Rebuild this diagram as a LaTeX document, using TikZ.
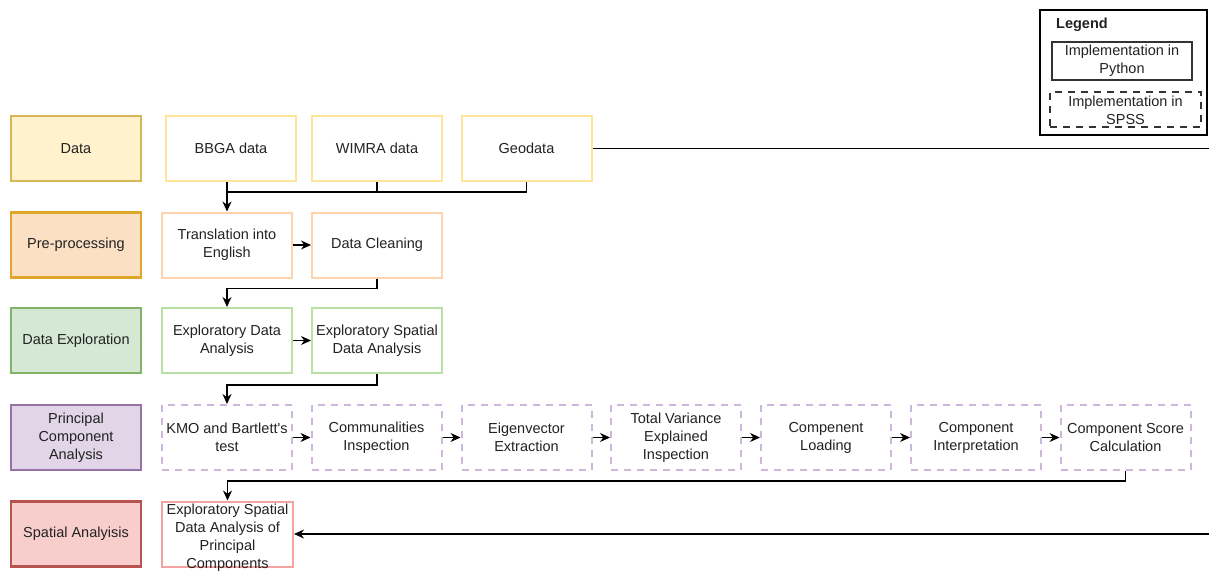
\documentclass[tikz,border=0pt]{standalone}
\usepackage{fontspec}
\setmainfont{Liberation Sans}
\usetikzlibrary{arrows.meta,calc}

\definecolor{txt}{HTML}{222222}
% lane header colours
\definecolor{dataF}{HTML}{FFF2CC}\definecolor{dataS}{HTML}{D6B656}
\definecolor{preF}{HTML}{FCE0C4}\definecolor{preS}{HTML}{E0A62A}
\definecolor{expF}{HTML}{D5E8D4}\definecolor{expS}{HTML}{82B366}
\definecolor{pcaF}{HTML}{E1D5E7}\definecolor{pcaS}{HTML}{9673A6}
\definecolor{spaF}{HTML}{F8CECC}\definecolor{spaS}{HTML}{B85450}
% step box outlines
\definecolor{dataL}{HTML}{FFE599}
\definecolor{preL}{HTML}{FFD3AE}
\definecolor{expL}{HTML}{B9E0A5}
\definecolor{pcaL}{HTML}{CDB5DB}
\definecolor{spaL}{HTML}{F5A3A1}

\begin{document}
\begin{tikzpicture}[x=1pt,y=-1pt,
  every node/.style={font=\fontsize{14.5}{18}\selectfont, text=txt, align=center, inner sep=1pt},
  lane/.style={draw, line width=2.4pt, minimum width=130pt, minimum height=65pt},
  stepbox/.style={draw, line width=2pt, fill=white, minimum width=130pt, minimum height=65pt},
  spssbox/.style={stepbox, dash pattern=on 7pt off 6pt},
  conn/.style={line width=1.2pt, black},
  arr/.style={conn, -{Stealth[length=10pt,width=9pt]}}
]
\useasboundingbox (0,0) rectangle (1209,570);

% lane headers
\node[lane, fill=dataF, draw=dataS] (lData) at (76,148.5) {Data};
\node[lane, fill=preF, draw=preS] (lPre) at (76,245) {Pre-processing};
\node[lane, fill=expF, draw=expS] (lExp) at (76,340.5) {Data Exploration};
\node[lane, fill=pcaF, draw=pcaS] (lPca) at (76,437.5) {Principal\\Component\\Analysis};
\node[lane, fill=spaF, draw=spaS] (lSpa) at (76,534) {Spatial Analyisis};

% data sources
\node[stepbox, draw=dataL] (bbga) at (231,148.5) {BBGA data};
\node[stepbox, draw=dataL] (wimra) at (377,148.5) {WIMRA data};
\node[stepbox, draw=dataL] (geo) at (526.5,148.5) {Geodata};

% pre-processing
\node[stepbox, draw=preL] (trans) at (227,245) {Translation into\\English};
\node[stepbox, draw=preL] (clean) at (377,245) {Data Cleaning};

% exploration
\node[stepbox, draw=expL] (eda) at (227,340.5) {Exploratory Data\\Analysis};
\node[stepbox, draw=expL] (esda) at (377,340.5) {Exploratory Spatial\\Data Analysis};

% principal component analysis (SPSS)
\node[spssbox, draw=pcaL] (kmo) at (227,437.5) {KMO and Bartlett\textquotesingle s\\test};
\node[spssbox, draw=pcaL] (comm) at (376.5,437.5) {Communalities\\Inspection};
\node[spssbox, draw=pcaL] (eig) at (526.5,437.5) {Eigenvector\\Extraction};
\node[spssbox, draw=pcaL] (tve) at (676,437.5) {Total Variance\\Explained\\Inspection};
\node[spssbox, draw=pcaL] (load) at (826,437.5) {Compenent\\Loading};
\node[spssbox, draw=pcaL] (interp) at (976,437.5) {Component\\Interpretation};
\node[spssbox, draw=pcaL] (score) at (1125.5,437.5) {Component Score\\Calculation};

% spatial analysis (text sits a little low in its box)
\node[stepbox, draw=spaL, minimum width=131pt] (spa) at (227.5,534) {};
\node (spatxt) at (227.5,537.5) {Exploratory Spatial\\Data Analysis of\\Principal\\Components};

% legend
\node[draw, line width=2.4pt, minimum width=167pt, minimum height=125pt] (legend) at (1123.5,72.5) {};
\node[font=\fontsize{14.5}{18}\selectfont\bfseries, anchor=west] (legtitle) at (1055,25) {Legend};
\node[draw=black!80, line width=2pt, minimum width=140pt, minimum height=38pt] (legpy) at (1122,61) {Implementation in\\Python};
\node[draw=black!80, line width=2pt, dash pattern=on 7pt off 6pt, minimum width=151pt, minimum height=35pt] (legspss) at (1125.5,109.5) {};
\node (legspsstxt) at (1125.5,110) {Implementation in\\SPSS};

% connectors
\coordinate (j1) at ($(bbga.south -| trans.north)+(0,10)$);
\draw[conn] (wimra.south) -- (wimra.south |- j1);
\draw[conn] (geo.south) -- (geo.south |- j1) -- (j1);
\draw[arr] (bbga.south -| trans.north) -- (trans.north);

\draw[arr] (trans) -- (clean);
\draw[arr] (clean.south) -- ++(0,10) -| (eda.north);

\draw[arr] (eda) -- (esda);
\draw[arr] (esda.south) -- ++(0,11) -| (kmo.north);

\draw[arr] (kmo) -- (comm);
\draw[arr] (comm) -- (eig);
\draw[arr] (eig) -- (tve);
\draw[arr] (tve) -- (load);
\draw[arr] (load) -- (interp);
\draw[arr] (interp) -- (score);
\draw[arr] (score.south) -- ++(0,10) -| (spa.north);

\coordinate (outA) at (1212,148.5);
\coordinate (outB) at (1212,534);
\draw[conn] (geo.east) -- (outA);
\draw[arr] (outB) -- (spa.east);
\end{tikzpicture}
\end{document}
